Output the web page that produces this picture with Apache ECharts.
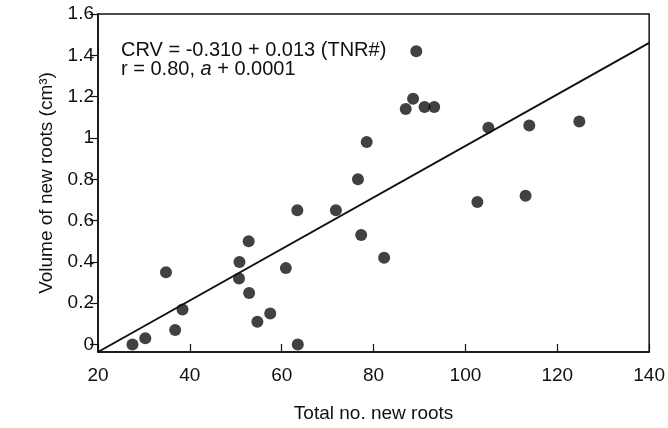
<!DOCTYPE html>
<html>
<head>
<meta charset="utf-8">
<script src="https://cdn.jsdelivr.net/npm/echarts@6/dist/echarts.min.js"></script>
<style>
html,body{margin:0;padding:0;background:#fff;}
#chart{width:668px;height:428px;}
</style>
</head>
<body>
<div id="chart"></div>
<script>
// Data
var totalRoots = [27.5, 30.3, 34.8, 36.8, 38.4, 50.8, 50.7, 52.9, 52.8, 54.7, 57.5, 60.9, 63.5, 63.4, 71.8, 76.6, 77.3, 78.5, 82.3, 87.0, 88.6, 89.3, 91.1, 93.2, 102.6, 105.0, 113.1, 113.9, 124.8];
var rootVolume = [0.00, 0.03, 0.35, 0.07, 0.17, 0.40, 0.32, 0.25, 0.50, 0.11, 0.15, 0.37, 0.00, 0.65, 0.65, 0.80, 0.53, 0.98, 0.42, 1.14, 1.19, 1.42, 1.15, 1.15, 0.69, 1.05, 0.72, 1.06, 1.08];
var fitX = [20, 140];
var fitY = [-0.036, 1.46];
var yTicks = [0, 0.2, 0.4, 0.6, 0.8, 1, 1.2, 1.4, 1.6];
var xTicks = [20, 40, 60, 80, 100, 120, 140];
var equationLine1 = 'CRV = -0.310 + 0.013 (TNR#)';
var equationLine2 = 'r = 0.80, {i|a} + 0.0001';

var FONT = '"Liberation Sans", Arial, Helvetica, sans-serif';
var INK = '#111';

var chart = echarts.init(document.getElementById('chart'));
var points = totalRoots.map(function (x, i) { return [x, rootVolume[i]]; });
var fit = fitX.map(function (x, i) { return [x, fitY[i]]; });

chart.setOption({
  animation: false,
  backgroundColor: '#fff',
  title: {
    left: 116,
    top: 36,
    text: equationLine1 + '\n' + equationLine2,
    textStyle: {
      fontFamily: FONT, fontSize: 20, fontWeight: 'normal', color: INK, lineHeight: 19,
      rich: { i: { fontStyle: 'italic', fontFamily: FONT, fontSize: 20, color: INK, lineHeight: 19 } }
    }
  },
  grid: {
    left: 98, right: 17, top: 14, bottom: 71,
    show: true, borderColor: INK, borderWidth: 1.5, backgroundColor: 'transparent'
  },
  xAxis: {
    type: 'value',
    min: xTicks[0], max: xTicks[xTicks.length - 1], interval: 20,
    name: 'Total no. new roots',
    nameLocation: 'middle', nameGap: 52,
    nameTextStyle: { fontFamily: FONT, fontSize: 19, color: INK },
    axisLine: { show: true, onZero: false, lineStyle: { color: INK, width: 1.5 } },
    axisTick: { show: true, inside: true, length: 8, lineStyle: { color: INK, width: 1.2 } },
    axisLabel: { fontFamily: FONT, fontSize: 19, color: INK, margin: 14 },
    splitLine: { show: false }
  },
  yAxis: {
    type: 'value',
    min: -0.036, max: 1.6,
    name: 'Volume of new roots (cm³)',
    nameLocation: 'middle', nameGap: 36, nameRotate: 90,
    nameTextStyle: { fontFamily: FONT, fontSize: 19, color: INK },
    axisLine: { show: true, onZero: false, lineStyle: { color: INK, width: 1.5 } },
    axisTick: { show: true, inside: false, length: 8, customValues: yTicks, lineStyle: { color: INK, width: 1.2 } },
    axisLabel: {
      fontFamily: FONT, fontSize: 19, color: INK, margin: 4, customValues: yTicks,
      formatter: function (v) { return String(v); }
    },
    splitLine: { show: false }
  },
  series: [
    {
      type: 'line',
      data: fit,
      symbol: 'none',
      clip: true,
      lineStyle: { color: INK, width: 2 },
      z: 2
    },
    {
      type: 'scatter',
      data: points,
      symbol: 'circle',
      symbolSize: 12,
      itemStyle: { color: INK },
      z: 3
    }
  ]
});
</script>
</body>
</html>
